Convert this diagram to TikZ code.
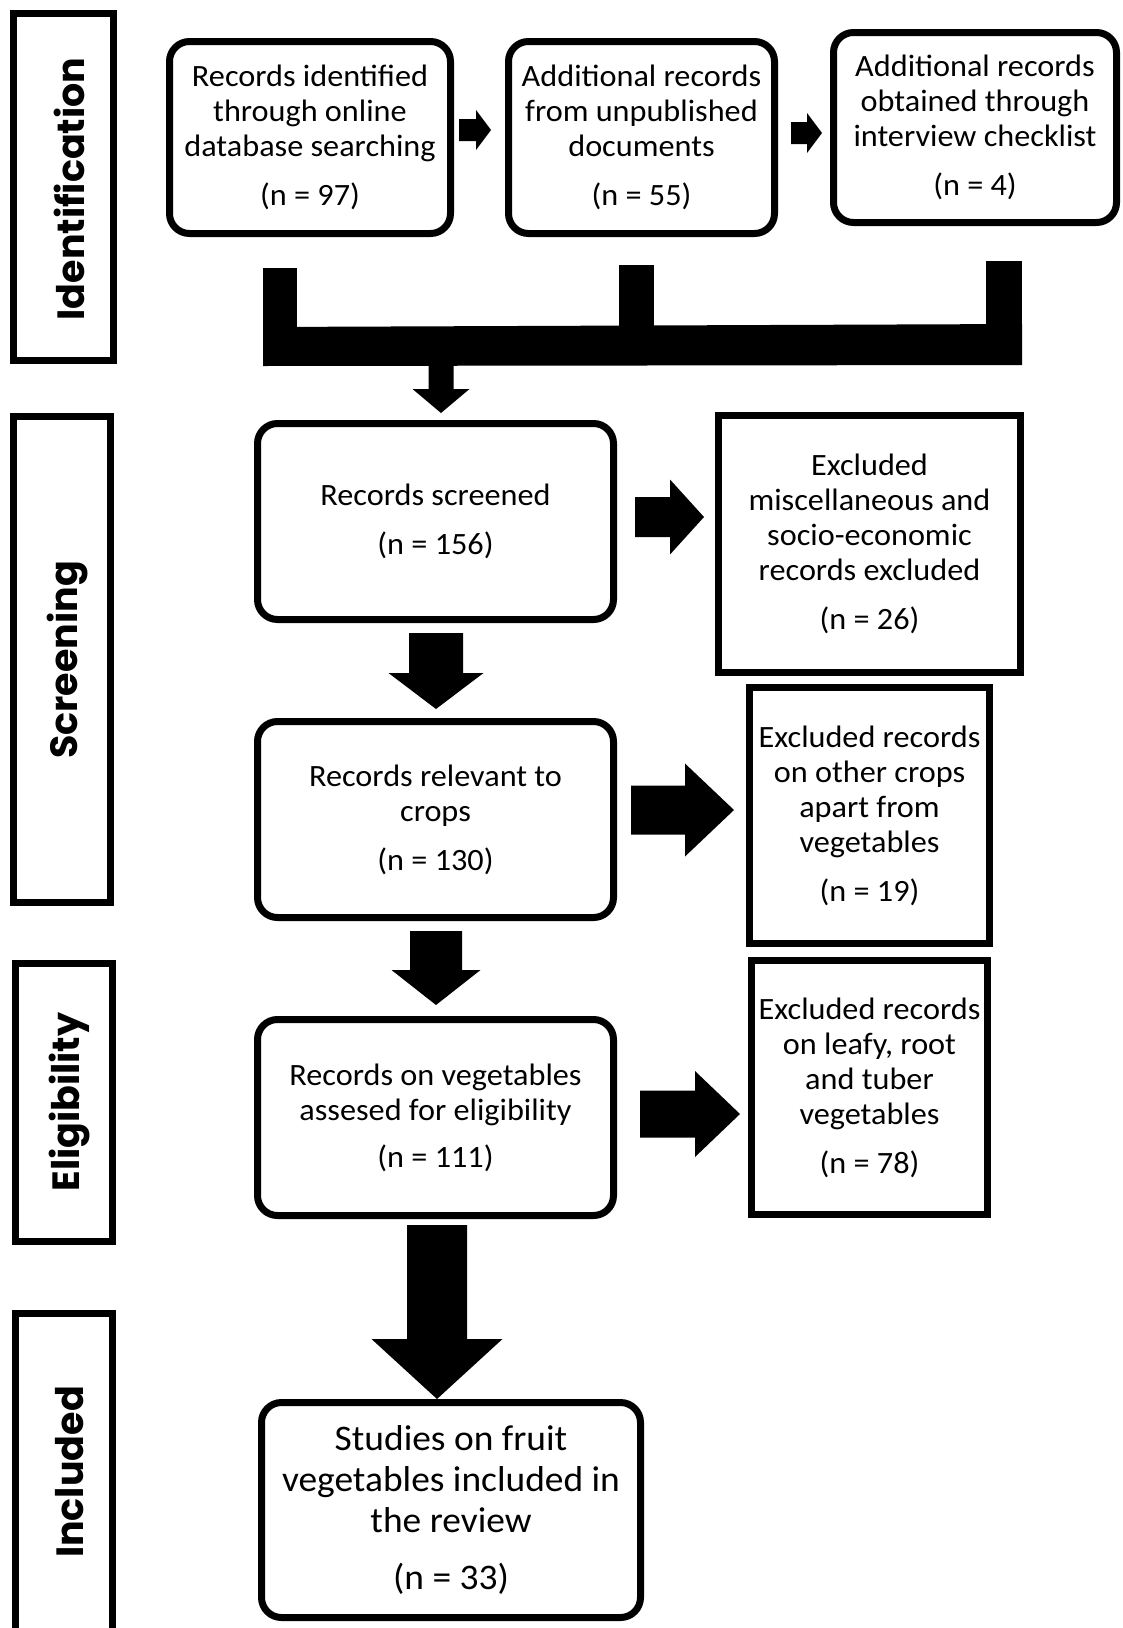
\documentclass[tikz,border=0pt]{standalone}
\usepackage{fontspec}
\setmainfont{Carlito}[FakeStretch=1.04]
\newfontfamily\sidefont{Poppins}
\newcommand{\rightblock}[6]{% x0,x1,xt,yc,h,H
 \fill (#1,{#4-#5}) -- (#2,{#4-#5}) -- (#2,{#4-#6}) -- (#3,#4) -- (#2,{#4+#6}) -- (#2,{#4+#5}) -- (#1,{#4+#5}) -- cycle;}
\newcommand{\downblock}[6]{% xc,y0,y1,yt,h,H
 \fill ({#1-#5},#2) -- ({#1+#5},#2) -- ({#1+#5},#3) -- ({#1+#6},#3) -- (#1,#4) -- ({#1-#6},#3) -- ({#1-#5},#3) -- cycle;}
\begin{document}
\begin{tikzpicture}[x=1pt,y=-1pt,
  rbox/.style={draw, line width=7pt, rounded corners=20pt, align=center, inner sep=0pt,
    font=\fontsize{31}{35}\selectfont},
  sqbox/.style={draw, line width=7pt, align=center, inner sep=0pt,
    font=\fontsize{31}{35}\selectfont},
  phase/.style={draw, line width=7pt, inner sep=0pt},
  phasetext/.style={rotate=90, font=\sidefont\bfseries\fontsize{38}{38}\selectfont, inner sep=0pt}
]
\useasboundingbox (0,0) rectangle (1122,1628);
\clip (0,0) rectangle (1122,1628);
\fill[white] (0,0) rectangle (1122,1628);

% phase boxes
\node[phase, minimum width=100pt, minimum height=347pt] (pid) at (63.5,187) {};
\node[phasetext] (tid) at (69,189) {Identification};
\node[phase, minimum width=97pt, minimum height=486pt] (psc) at (62,659.5) {};
\node[phasetext] (tsc) at (68,660) {Screening};
\node[phase, minimum width=97pt, minimum height=278pt] (pel) at (64,1102.5) {};
\node[phasetext] (tel) at (70,1102) {Eligibility};
\node[phase, minimum width=97pt, minimum height=343pt] (pin) at (64,1485) {};
\node[phasetext] (tin) at (70,1472) {Included};

% identification boxes
\node[rbox, minimum width=281pt, minimum height=192pt] (a) at (310,137.5)
  {Records identified\\through online\\database searching\\[14pt](n = 97)};
\node[rbox, minimum width=266pt, minimum height=192pt] (b) at (641.5,137.5)
  {Additional records\\from unpublished\\documents\\[14pt](n = 55)};
\node[rbox, minimum width=283pt, minimum height=190pt] (c) at (975,127.5)
  {Additional records\\obtained through\\interview checklist\\[14pt](n = 4)};

\rightblock{459}{476}{491}{130}{11}{20}
\rightblock{791}{807}{822}{133}{11}{20}

% bracket
\fill (263,268) rectangle (297,365);
\fill (619,265) rectangle (654,340);
\fill (986,261) rectangle (1022,365);
\fill (263,327) -- (1022,324) -- (1022,365) -- (263,366) -- cycle;
\downblock{441}{360}{389}{413}{12.5}{28.5}

% screening
\node[rbox, minimum width=356pt, minimum height=196pt] (scr) at (435.5,521.5)
  {Records screened\\[14pt](n = 156)};
\node[sqbox, minimum width=302pt, minimum height=257pt] (ex1) at (869.5,544)
  {Excluded\\miscellaneous and\\socio-economic\\records excluded\\[14pt](n = 26)};
\rightblock{635}{670}{704}{517}{20}{37.5}
\downblock{436}{633}{673}{709}{27}{47.5}

\node[rbox, minimum width=356pt, minimum height=196pt] (rel) at (435.5,819.5)
  {Records relevant to\\crops\\[14pt](n = 130)};
\node[sqbox, minimum width=240pt, minimum height=256pt] (ex2) at (869.5,815.5)
  {Excluded records\\on other crops\\apart from\\vegetables\\[14pt](n = 19)};
\rightblock{631}{685}{734}{810}{24.5}{46.5}
\downblock{436}{931}{970}{1005}{26}{44.5}

% eligibility
\node[rbox, minimum width=356pt, minimum height=196pt] (veg) at (435.5,1117.5)
  {Records on vegetables\\assesed for eligibility\\[12pt](n = 111)};
\node[sqbox, minimum width=236pt, minimum height=254pt] (ex3) at (869.5,1087.5)
  {Excluded records\\on leafy, root\\and tuber\\vegetables\\[14pt](n = 78)};
\rightblock{640}{695}{740}{1114}{23.5}{43}
\downblock{437}{1225}{1339}{1399}{30}{65.5}

% included
\node[rbox, minimum width=379pt, minimum height=215pt,
  font=\fontsize{36}{41}\selectfont] (fin) at (451,1510)
  {Studies on fruit\\vegetables included in\\the review\\[16pt](n = 33)};
\end{tikzpicture}
\end{document}
